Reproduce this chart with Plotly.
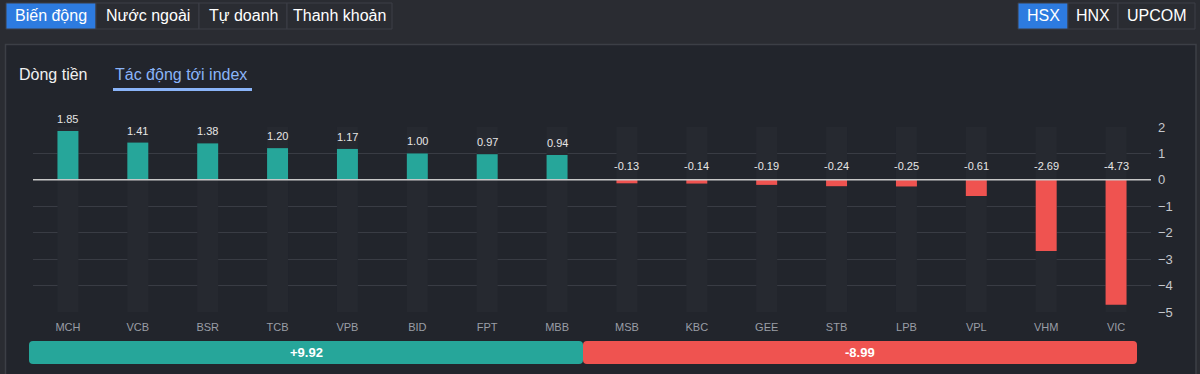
import plotly.graph_objects as go

W, H = 1200, 374

# ---------------- data ----------------
tickers = ["MCH", "VCB", "BSR", "TCB", "VPB", "BID", "FPT", "MBB",
           "MSB", "KBC", "GEE", "STB", "LPB", "VPL", "VHM", "VIC"]
impact = [1.85, 1.41, 1.38, 1.20, 1.17, 1.00, 0.97, 0.94,
          -0.13, -0.14, -0.19, -0.24, -0.25, -0.61, -2.69, -4.73]
total_labels = ["+9.92", "-8.99"]
y_ticks = [2, 1, 0, -1, -2, -3, -4, -5]
tabs = ["Biến động", "Nước ngoài", "Tự doanh", "Thanh khoản"]
exchanges = ["HSX", "HNX", "UPCOM"]
subtabs = ["Dòng tiền", "Tác động tới index"]

# ---------------- styles ----------------
GREEN = "#26a69a"
RED = "#ef5350"
PAGE_BG = "#2a2c32"
PANEL_BG = "#22252c"
BORDER = "#3c3f46"
SHADOW = "#262930"
GRID = "#393c44"
BLUE = "#2d7be0"
FONT = "Liberation Sans, Arial, sans-serif"


def px(x):
    return x / W


def py(y):
    return 1 - y / H


ymin, ymax = min(y_ticks), max(y_ticks)
colors = [GREEN if v >= 0 else RED for v in impact]
n_up = sum(1 for v in impact if v >= 0)
n_down = len(impact) - n_up

fig = go.Figure()

# shadow columns behind bars
fig.add_trace(go.Bar(x=tickers, y=[ymax - ymin] * len(tickers), base=[ymin] * len(tickers),
                     marker=dict(color=SHADOW, line=dict(width=0)), width=0.3,
                     hoverinfo="skip", showlegend=False))
# main bars
fig.add_trace(go.Bar(x=tickers, y=impact, marker=dict(color=colors, line=dict(width=0)),
                     width=0.3, showlegend=False))

# value labels
for t, v in zip(tickers, impact):
    fig.add_annotation(x=t, y=max(v, 0), xref="x", yref="y", text=f"{v:.2f}",
                       showarrow=False, xanchor="center", yanchor="middle",
                       yshift=12 if v >= 0 else 14,
                       font=dict(size=11, color="#e6e6e6", family=FONT))

# bottom summary bar
fig.add_trace(go.Bar(y=[0], x=[-n_up], base=[n_up], orientation="h", xaxis="x2", yaxis="y2",
                     marker=dict(color=GREEN, line=dict(width=0), cornerradius=4), width=1,
                     showlegend=False, hoverinfo="skip"))
fig.add_trace(go.Bar(y=[0], x=[n_down], base=[n_up], orientation="h", xaxis="x2", yaxis="y2",
                     marker=dict(color=RED, line=dict(width=0), cornerradius=4), width=1,
                     showlegend=False, hoverinfo="skip"))
fig.add_annotation(x=n_up / 2, y=0, xref="x2", yref="y2", text=f"<b>{total_labels[0]}</b>",
                   showarrow=False, xanchor="center", yanchor="middle",
                   font=dict(size=13, color="white", family=FONT))
fig.add_annotation(x=n_up + n_down / 2, y=0, xref="x2", yref="y2", text=f"<b>{total_labels[1]}</b>",
                   showarrow=False, xanchor="center", yanchor="middle",
                   font=dict(size=13, color="white", family=FONT))

shapes = []
# panel
shapes.append(dict(type="rect", xref="paper", yref="paper", x0=px(5.5), x1=px(1196), y0=py(390), y1=py(44.5),
                   fillcolor=PANEL_BG, line=dict(color=BORDER, width=1.5), layer="below"))

# tabs
tab_edges = [6, 96, 199, 287, 392]
for i, name in enumerate(tabs):
    x0, x1 = tab_edges[i], tab_edges[i + 1]
    shapes.append(dict(type="rect", xref="paper", yref="paper", x0=px(x0), x1=px(x1), y0=py(29), y1=py(3),
                       fillcolor=BLUE if i == 0 else PAGE_BG, line=dict(color=BORDER, width=1), layer="below"))
    fig.add_annotation(x=px((x0 + x1) / 2), y=py(16), xref="paper", yref="paper", text=name,
                       showarrow=False, xanchor="center", yanchor="middle",
                       font=dict(size=16, color="white", family=FONT))

ex_edges = [1018, 1068, 1118, 1195]
for i, name in enumerate(exchanges):
    x0, x1 = ex_edges[i], ex_edges[i + 1]
    shapes.append(dict(type="rect", xref="paper", yref="paper", x0=px(x0), x1=px(x1), y0=py(29), y1=py(3),
                       fillcolor=BLUE if i == 0 else PAGE_BG, line=dict(color=BORDER, width=1), layer="below"))
    fig.add_annotation(x=px((x0 + x1) / 2), y=py(16), xref="paper", yref="paper", text=name,
                       showarrow=False, xanchor="center", yanchor="middle",
                       font=dict(size=16, color="white", family=FONT))

# sub tabs
fig.add_annotation(x=px(17), y=py(74), xref="paper", yref="paper", text=subtabs[0],
                   xanchor="left", yanchor="middle",
                   showarrow=False, font=dict(size=16, color="#f0f0f0", family=FONT))
fig.add_annotation(x=px(113), y=py(74), xref="paper", yref="paper", text=subtabs[1],
                   xanchor="left", yanchor="middle",
                   showarrow=False, font=dict(size=16, color="#8ab4f8", family=FONT))
shapes.append(dict(type="rect", xref="paper", yref="paper", x0=px(113), x1=px(252), y0=py(91), y1=py(88),
                   fillcolor="#8ab4f8", line=dict(width=0)))

# zero line
shapes.append(dict(type="line", xref="paper", yref="y", x0=px(33), x1=px(1151), y0=0, y1=0,
                   line=dict(color="#c8c8c8", width=1.5), layer="above"))

fig.update_layout(
    width=W, height=H,
    margin=dict(l=0, r=0, t=0, b=0, pad=0),
    paper_bgcolor=PAGE_BG,
    plot_bgcolor="rgba(0,0,0,0)",
    barmode="overlay",
    shapes=shapes,
    showlegend=False,
    xaxis=dict(domain=[px(33), px(1151)], showgrid=False, zeroline=False, showline=False,
               tickfont=dict(size=11, color="#9a9ea6", family=FONT), ticklabelstandoff=7,
               fixedrange=True, automargin=False),
    yaxis=dict(domain=[py(312), py(127)], range=[ymin, ymax], side="right", tickvals=y_ticks,
               showgrid=True, gridcolor=GRID, gridwidth=1, zeroline=False, showline=False,
               tickfont=dict(size=13, color="#c5c7cc", family=FONT), ticklabelstandoff=6,
               fixedrange=True, automargin=False),
    xaxis2=dict(domain=[px(29), px(1137)], range=[0, n_up + n_down], visible=False, anchor="y2",
                automargin=False),
    yaxis2=dict(domain=[py(364), py(341)], range=[-0.5, 0.5], visible=False, anchor="x2",
                automargin=False),
    font=dict(family=FONT),
)

fig.write_html("out.html")
